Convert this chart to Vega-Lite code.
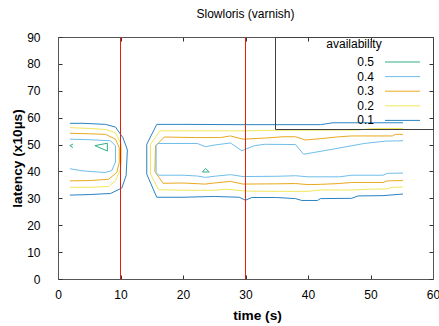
{
  "$schema": "https://vega.github.io/schema/vega-lite/v6.json",
  "autosize": "none",
  "width": 375,
  "height": 242,
  "padding": {"left": 58, "top": 37, "right": 6, "bottom": 47},
  "title": {"text": "Slowloris (varnish)", "fontSize": 12, "fontWeight": "normal", "font": "Liberation Sans", "color": "#000", "anchor": "middle", "offset": 10},
  "datasets": {
    "contours": [
      {"seg":"L1","level":"0.1","i":0,"t":1.9,"lat":57.9},
      {"seg":"L1","level":"0.1","i":1,"t":4,"lat":57.9},
      {"seg":"L1","level":"0.1","i":2,"t":7.6,"lat":57.5},
      {"seg":"L1","level":"0.1","i":3,"t":9.2,"lat":56.5},
      {"seg":"L1","level":"0.1","i":4,"t":10.4,"lat":52.5},
      {"seg":"L1","level":"0.1","i":5,"t":11.1,"lat":48},
      {"seg":"L1","level":"0.1","i":6,"t":10.9,"lat":38.5},
      {"seg":"L1","level":"0.1","i":7,"t":10.2,"lat":33.8},
      {"seg":"L1","level":"0.1","i":8,"t":8.4,"lat":31.8},
      {"seg":"L1","level":"0.1","i":9,"t":5,"lat":31.4},
      {"seg":"L1","level":"0.1","i":10,"t":1.9,"lat":31.2},
      {"seg":"L2","level":"0.2","i":0,"t":1.9,"lat":56.3},
      {"seg":"L2","level":"0.2","i":1,"t":5,"lat":56.0},
      {"seg":"L2","level":"0.2","i":2,"t":7.6,"lat":55.6},
      {"seg":"L2","level":"0.2","i":3,"t":9.2,"lat":54.4},
      {"seg":"L2","level":"0.2","i":4,"t":10.1,"lat":50.1},
      {"seg":"L2","level":"0.2","i":5,"t":10.2,"lat":45.8},
      {"seg":"L2","level":"0.2","i":6,"t":10.0,"lat":40.9},
      {"seg":"L2","level":"0.2","i":7,"t":9.2,"lat":36.5},
      {"seg":"L2","level":"0.2","i":8,"t":8.1,"lat":34.4},
      {"seg":"L2","level":"0.2","i":9,"t":5,"lat":34.1},
      {"seg":"L2","level":"0.2","i":10,"t":1.9,"lat":34.1},
      {"seg":"L3","level":"0.3","i":0,"t":1.9,"lat":54.2},
      {"seg":"L3","level":"0.3","i":1,"t":5,"lat":54.0},
      {"seg":"L3","level":"0.3","i":2,"t":7.6,"lat":53.8},
      {"seg":"L3","level":"0.3","i":3,"t":9.2,"lat":52},
      {"seg":"L3","level":"0.3","i":4,"t":9.8,"lat":48.9},
      {"seg":"L3","level":"0.3","i":5,"t":9.8,"lat":43.3},
      {"seg":"L3","level":"0.3","i":6,"t":9.4,"lat":39.6},
      {"seg":"L3","level":"0.3","i":7,"t":8.1,"lat":37.1},
      {"seg":"L3","level":"0.3","i":8,"t":5,"lat":36.6},
      {"seg":"L3","level":"0.3","i":9,"t":1.9,"lat":36.5},
      {"seg":"L4","level":"0.4","i":0,"t":1.9,"lat":52.0},
      {"seg":"L4","level":"0.4","i":1,"t":5,"lat":51.8},
      {"seg":"L4","level":"0.4","i":2,"t":8.4,"lat":51.4},
      {"seg":"L4","level":"0.4","i":3,"t":9.2,"lat":49.5},
      {"seg":"L4","level":"0.4","i":4,"t":9.2,"lat":43.5},
      {"seg":"L4","level":"0.4","i":5,"t":8.6,"lat":40.3},
      {"seg":"L4","level":"0.4","i":6,"t":7.5,"lat":39.6},
      {"seg":"L4","level":"0.4","i":7,"t":4,"lat":40.2},
      {"seg":"L4","level":"0.4","i":8,"t":1.9,"lat":41.0},
      {"seg":"L5","level":"0.5","i":0,"t":5.9,"lat":49.6},
      {"seg":"L5","level":"0.5","i":1,"t":7.9,"lat":50.5},
      {"seg":"L5","level":"0.5","i":2,"t":7.9,"lat":47.6},
      {"seg":"L5","level":"0.5","i":3,"t":5.9,"lat":49.6},
      {"seg":"L6","level":"0.5","i":0,"t":2.4,"lat":50.2},
      {"seg":"L6","level":"0.5","i":1,"t":1.9,"lat":49.6},
      {"seg":"L6","level":"0.5","i":2,"t":2.4,"lat":48.9},
      {"seg":"B1","level":"0.1","i":0,"t":55.2,"lat":58.1},
      {"seg":"B1","level":"0.1","i":1,"t":44,"lat":58.1},
      {"seg":"B1","level":"0.1","i":2,"t":42,"lat":57.4},
      {"seg":"B1","level":"0.1","i":3,"t":30,"lat":57.4},
      {"seg":"B1","level":"0.1","i":4,"t":20,"lat":57.5},
      {"seg":"B1","level":"0.1","i":5,"t":15.8,"lat":57.5},
      {"seg":"B1","level":"0.1","i":6,"t":14.2,"lat":50.1},
      {"seg":"B1","level":"0.1","i":7,"t":14.2,"lat":39},
      {"seg":"B1","level":"0.1","i":8,"t":15.8,"lat":30.4},
      {"seg":"B1","level":"0.1","i":9,"t":20,"lat":30.4},
      {"seg":"B1","level":"0.1","i":10,"t":25,"lat":30.7},
      {"seg":"B1","level":"0.1","i":11,"t":29,"lat":30.4},
      {"seg":"B1","level":"0.1","i":12,"t":30,"lat":29.3},
      {"seg":"B1","level":"0.1","i":13,"t":31,"lat":30.3},
      {"seg":"B1","level":"0.1","i":14,"t":35,"lat":30.3},
      {"seg":"B1","level":"0.1","i":15,"t":38,"lat":29.9},
      {"seg":"B1","level":"0.1","i":16,"t":39,"lat":29.2},
      {"seg":"B1","level":"0.1","i":17,"t":41.5,"lat":29.2},
      {"seg":"B1","level":"0.1","i":18,"t":42,"lat":29.9},
      {"seg":"B1","level":"0.1","i":19,"t":47,"lat":30.0},
      {"seg":"B1","level":"0.1","i":20,"t":48,"lat":30.9},
      {"seg":"B1","level":"0.1","i":21,"t":52,"lat":31.0},
      {"seg":"B1","level":"0.1","i":22,"t":55.2,"lat":31.6},
      {"seg":"B2","level":"0.2","i":0,"t":55.2,"lat":56.0},
      {"seg":"B2","level":"0.2","i":1,"t":50,"lat":55.9},
      {"seg":"B2","level":"0.2","i":2,"t":48,"lat":55.4},
      {"seg":"B2","level":"0.2","i":3,"t":35,"lat":55.3},
      {"seg":"B2","level":"0.2","i":4,"t":30,"lat":55.1},
      {"seg":"B2","level":"0.2","i":5,"t":20,"lat":55.1},
      {"seg":"B2","level":"0.2","i":6,"t":16.3,"lat":55.1},
      {"seg":"B2","level":"0.2","i":7,"t":14.8,"lat":50.1},
      {"seg":"B2","level":"0.2","i":8,"t":14.8,"lat":39},
      {"seg":"B2","level":"0.2","i":9,"t":16.1,"lat":33.2},
      {"seg":"B2","level":"0.2","i":10,"t":20,"lat":33.0},
      {"seg":"B2","level":"0.2","i":11,"t":25,"lat":33.0},
      {"seg":"B2","level":"0.2","i":12,"t":27,"lat":33.4},
      {"seg":"B2","level":"0.2","i":13,"t":30,"lat":32.7},
      {"seg":"B2","level":"0.2","i":14,"t":35,"lat":32.6},
      {"seg":"B2","level":"0.2","i":15,"t":40,"lat":32.6},
      {"seg":"B2","level":"0.2","i":16,"t":42,"lat":33.1},
      {"seg":"B2","level":"0.2","i":17,"t":47,"lat":33.1},
      {"seg":"B2","level":"0.2","i":18,"t":50,"lat":33.4},
      {"seg":"B2","level":"0.2","i":19,"t":52.5,"lat":33.5},
      {"seg":"B2","level":"0.2","i":20,"t":53.5,"lat":34.1},
      {"seg":"B2","level":"0.2","i":21,"t":55.2,"lat":34.2},
      {"seg":"B3","level":"0.3","i":0,"t":55.2,"lat":53.8},
      {"seg":"B3","level":"0.3","i":1,"t":54,"lat":53.8},
      {"seg":"B3","level":"0.3","i":2,"t":53.5,"lat":53.2},
      {"seg":"B3","level":"0.3","i":3,"t":47,"lat":53.2},
      {"seg":"B3","level":"0.3","i":4,"t":45,"lat":52.9},
      {"seg":"B3","level":"0.3","i":5,"t":42,"lat":52.2},
      {"seg":"B3","level":"0.3","i":6,"t":39.6,"lat":51.7},
      {"seg":"B3","level":"0.3","i":7,"t":38,"lat":52.9},
      {"seg":"B3","level":"0.3","i":8,"t":36,"lat":52.9},
      {"seg":"B3","level":"0.3","i":9,"t":33,"lat":52.4},
      {"seg":"B3","level":"0.3","i":10,"t":29.6,"lat":52.0},
      {"seg":"B3","level":"0.3","i":11,"t":27.6,"lat":53.2},
      {"seg":"B3","level":"0.3","i":12,"t":26,"lat":52.6},
      {"seg":"B3","level":"0.3","i":13,"t":22,"lat":52.6},
      {"seg":"B3","level":"0.3","i":14,"t":17,"lat":52.8},
      {"seg":"B3","level":"0.3","i":15,"t":15.6,"lat":49.5},
      {"seg":"B3","level":"0.3","i":16,"t":15.5,"lat":40},
      {"seg":"B3","level":"0.3","i":17,"t":16.8,"lat":35.6},
      {"seg":"B3","level":"0.3","i":18,"t":20,"lat":35.7},
      {"seg":"B3","level":"0.3","i":19,"t":23.5,"lat":35.3},
      {"seg":"B3","level":"0.3","i":20,"t":25,"lat":35.7},
      {"seg":"B3","level":"0.3","i":21,"t":27.6,"lat":36.3},
      {"seg":"B3","level":"0.3","i":22,"t":29.6,"lat":35.3},
      {"seg":"B3","level":"0.3","i":23,"t":35,"lat":35.4},
      {"seg":"B3","level":"0.3","i":24,"t":38,"lat":35.5},
      {"seg":"B3","level":"0.3","i":25,"t":40,"lat":35.1},
      {"seg":"B3","level":"0.3","i":26,"t":42,"lat":35.2},
      {"seg":"B3","level":"0.3","i":27,"t":45,"lat":35.5},
      {"seg":"B3","level":"0.3","i":28,"t":47,"lat":35.9},
      {"seg":"B3","level":"0.3","i":29,"t":52,"lat":35.9},
      {"seg":"B3","level":"0.3","i":30,"t":52.7,"lat":36.5},
      {"seg":"B3","level":"0.3","i":31,"t":55.2,"lat":36.6},
      {"seg":"B4","level":"0.4","i":0,"t":55.2,"lat":51.4},
      {"seg":"B4","level":"0.4","i":1,"t":52.5,"lat":51.3},
      {"seg":"B4","level":"0.4","i":2,"t":49,"lat":50.4},
      {"seg":"B4","level":"0.4","i":3,"t":44,"lat":48.3},
      {"seg":"B4","level":"0.4","i":4,"t":39.3,"lat":46.4},
      {"seg":"B4","level":"0.4","i":5,"t":38,"lat":50.0},
      {"seg":"B4","level":"0.4","i":6,"t":33,"lat":50.1},
      {"seg":"B4","level":"0.4","i":7,"t":31.3,"lat":49.5},
      {"seg":"B4","level":"0.4","i":8,"t":29.4,"lat":47.7},
      {"seg":"B4","level":"0.4","i":9,"t":27.6,"lat":50.6},
      {"seg":"B4","level":"0.4","i":10,"t":25,"lat":49.8},
      {"seg":"B4","level":"0.4","i":11,"t":23.6,"lat":49.2},
      {"seg":"B4","level":"0.4","i":12,"t":22.3,"lat":50.4},
      {"seg":"B4","level":"0.4","i":13,"t":16,"lat":50.4},
      {"seg":"B4","level":"0.4","i":14,"t":15.7,"lat":49.7},
      {"seg":"B4","level":"0.4","i":15,"t":15.7,"lat":39.6},
      {"seg":"B4","level":"0.4","i":16,"t":16.1,"lat":38.6},
      {"seg":"B4","level":"0.4","i":17,"t":20,"lat":38.6},
      {"seg":"B4","level":"0.4","i":18,"t":22.3,"lat":38.3},
      {"seg":"B4","level":"0.4","i":19,"t":23.6,"lat":37.8},
      {"seg":"B4","level":"0.4","i":20,"t":25,"lat":38.2},
      {"seg":"B4","level":"0.4","i":21,"t":27.6,"lat":38.8},
      {"seg":"B4","level":"0.4","i":22,"t":29.6,"lat":38.1},
      {"seg":"B4","level":"0.4","i":23,"t":35,"lat":38.2},
      {"seg":"B4","level":"0.4","i":24,"t":38,"lat":38.4},
      {"seg":"B4","level":"0.4","i":25,"t":40,"lat":38.0},
      {"seg":"B4","level":"0.4","i":26,"t":45,"lat":38.0},
      {"seg":"B4","level":"0.4","i":27,"t":47,"lat":38.6},
      {"seg":"B4","level":"0.4","i":28,"t":52,"lat":38.6},
      {"seg":"B4","level":"0.4","i":29,"t":52.7,"lat":39.3},
      {"seg":"B4","level":"0.4","i":30,"t":55.2,"lat":39.4},
      {"seg":"B5","level":"0.5","i":0,"t":23.1,"lat":39.8},
      {"seg":"B5","level":"0.5","i":1,"t":24.2,"lat":39.8},
      {"seg":"B5","level":"0.5","i":2,"t":23.6,"lat":41.1},
      {"seg":"B5","level":"0.5","i":3,"t":23.1,"lat":39.8}
    ],
    "markers": [{"t": 10}, {"t": 30}]
  },
  "layer": [
    {
      "data": {"name": "contours"},
      "transform": [{"filter": "datum.level != '0.5'"}],
      "mark": {"type": "line", "strokeWidth": 1, "interpolate": "linear"},
      "encoding": {
        "x": {"field": "t", "type": "quantitative", "scale": {"domain": [0, 60], "nice": false, "zero": false},
              "axis": {"orient": "top", "title": null, "labels": false, "values": [0,10,20,30,40,50,60]}},
        "y": {"field": "lat", "type": "quantitative", "scale": {"domain": [0, 90], "nice": false},
              "axis": {"orient": "left", "title": "latency (x10µs)", "values": [0,10,20,30,40,50,60,70,80,90]}},
        "color": {"field": "level", "type": "nominal",
                  "scale": {"domain": ["0.5","0.4","0.3","0.2","0.1"], "range": ["#2fae87","#6fbeea","#e9a91f","#f2e65c","#2a83c2"]},
                  "legend": {
                    "title": "availability", "orient": "top-right", "offset": 0,
                    "strokeColor": "#404040", "padding": 2,
                    "symbolType": "M-3.5,0H3.5M5.28,0H5.3", "symbolSize": 100, "symbolStrokeWidth": 1,
                    "symbolOffset": 119.5,
                    "rowPadding": 2.6,
                    "labelAlign": "right", "labelOffset": -34.5,
                    "labelFontSize": 12, "labelFont": "Liberation Sans", "labelColor": "#000",
                    "titleFontSize": 12, "titleFont": "Liberation Sans", "titleFontWeight": "normal", "titleColor": "#000",
                    "titleAnchor": "middle", "titlePadding": 5
                  }},
        "detail": {"field": "seg"},
        "order": {"field": "i", "type": "quantitative"}
      }
    },
    {
      "data": {"name": "contours"},
      "transform": [{"filter": "datum.level == '0.5'"}],
      "mark": {"type": "line", "strokeWidth": 1},
      "encoding": {
        "x": {"field": "t", "type": "quantitative", "axis": null},
        "y": {"field": "lat", "type": "quantitative",
              "axis": {"orient": "right", "title": null, "labels": false, "values": [0,10,20,30,40,50,60,70,80,90]}},
        "color": {"field": "level", "type": "nominal"},
        "detail": {"field": "seg"},
        "order": {"field": "i", "type": "quantitative"}
      }
    },
    {
      "data": {"name": "markers"},
      "mark": {"type": "rule", "color": "#e51e10", "strokeWidth": 1},
      "encoding": {
        "x": {"field": "t", "type": "quantitative",
              "axis": {"orient": "bottom", "title": "time (s)", "values": [0,10,20,30,40,50,60], "titleX": 199}}
      }
    }
  ],
  "resolve": {"axis": {"x": "independent", "y": "independent"}},
  "config": {
    "view": {"stroke": null},
    "axis": {
      "domain": true, "domainColor": "#555", "domainWidth": 1,
      "grid": false, "tickSize": -4, "tickColor": "#333", "labelFlush": false,
      "labelFont": "Liberation Sans", "labelFontSize": 12, "labelColor": "#000",
      "titleFont": "Liberation Sans", "titleFontSize": 13.7, "titleFontWeight": "bold", "titleColor": "#000"
    },
    "axisX": {"labelPadding": 14.5, "titlePadding": 8},
    "axisY": {"labelPadding": 22, "titlePadding": 2}
  }
}
